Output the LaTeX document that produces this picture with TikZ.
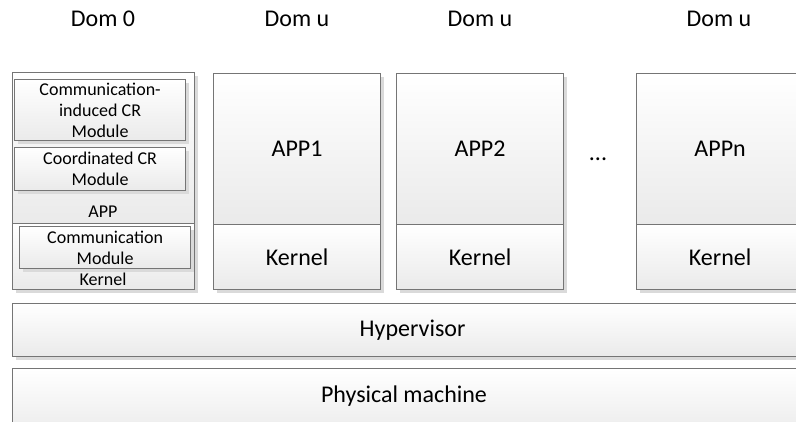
\documentclass[tikz,border=0pt]{standalone}
\usepackage{fontspec}
\setmainfont{Carlito}
\usepackage{xcolor}
\usetikzlibrary{shadows, positioning}
\definecolor{edgegray}{HTML}{757575}
\definecolor{shadowgray}{HTML}{DADADA}
\definecolor{fillgray}{HTML}{EAEAEA}

\begin{document}
\begin{tikzpicture}[x=1pt, y=-1pt,
    layer/.style={draw=edgegray, line width=1.2pt, top color=white, bottom color=fillgray, anchor=north west, inner sep=0pt, align=center, font=\fontsize{24}{29}\selectfont, drop shadow={shadow xshift=3pt, shadow yshift=-3pt, fill=shadowgray, opacity=1}},
    module/.style={layer, font=\fontsize{18}{21}\selectfont},
    small/.style={font=\fontsize{18}{21}\selectfont, inner sep=0pt},
    title/.style={font=\fontsize{24}{29}\selectfont, anchor=base, inner sep=0pt}
]
    \useasboundingbox (0,0) rectangle (796,421);

    % domain titles
    \node[title] (t0) at (103,26) {Dom 0};
    \node[title] (t1) at (297,26) {Dom u};
    \node[title] (t2) at (480,26) {Dom u};
    \node[title] (tn) at (719,26) {Dom u};

    % Dom 0
    \node[layer, minimum width=182, minimum height=151] (dom0app) at (12,72) {};
    \node[layer, minimum width=182, minimum height=66] (dom0kern) at (12,223) {};
    \node[module, minimum width=171, minimum height=61] (cicr) at (14,79) {Communication-\\induced CR\\Module};
    \node[module, minimum width=171, minimum height=43] (ccr) at (14,147) {Coordinated CR\\Module};
    \node[small] (applbl) at (103,212) {APP};
    \node[module, minimum width=171, minimum height=42] (comm) at (19,226) {Communication\\Module};
    \node[small] (kernlbl) at (103,279) {Kernel};

    % Dom u
    \node[layer, minimum width=167, minimum height=151] (app1) at (213,73) {APP1};
    \node[layer, minimum width=167, minimum height=65] (kern1) at (213,224) {Kernel};
    \node[layer, minimum width=167, minimum height=151] (app2) at (396,73) {APP2};
    \node[layer, minimum width=167, minimum height=65] (kern2) at (396,224) {Kernel};
    \node[title] (dots) at (598,160) {...};
    \node[layer, minimum width=167, minimum height=151] (appn) at (636,73) {APPn};
    \node[layer, minimum width=167, minimum height=65] (kernn) at (636,224) {Kernel};

    % shared layers
    \node[layer, minimum width=800, minimum height=53] (hyper) at (12,303) {Hypervisor};
    \node[layer, minimum width=800, minimum height=70] (phys) at (12,368) {};
    \node[font=\fontsize{24}{29}\selectfont] (physlbl) at (404,396) {Physical machine};
\end{tikzpicture}
\end{document}
